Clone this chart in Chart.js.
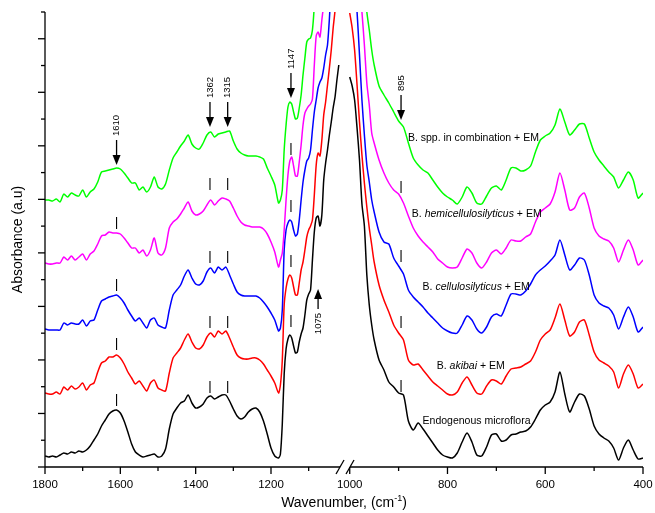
<!DOCTYPE html>
<html><head><meta charset="utf-8">
<script src="https://cdn.jsdelivr.net/npm/chart.js@4.4.0/dist/chart.umd.min.js"></script>
<style>html,body{margin:0;padding:0;background:#fff;}#wrap{width:655px;height:513px;position:relative;}</style>
</head><body><div id="wrap"><canvas id="c"></canvas></div>
<script>
// ---- wavenumber grids (cm-1) ----
const wnLeft = [1800,1790,1780,1770,1760,1750,1740,1730,1720,1710,
1700,1690,1680,1670,1660,1650,1640,1630,1620,1610,
1600,1590,1580,1570,1560,1550,1540,1530,1520,1510,
1500,1490,1480,1470,1460,1450,1440,1430,1420,1410,
1400,1390,1380,1370,1360,1350,1340,1330,1320,1310,
1300,1290,1280,1270,1260,1250,1240,1230,1220,1210,
1200,1190,1180,
1175,1170,1165,1160,1155,1150,1145,1140,1135,1130,
1125,1120,1115,1110,1105,1100,1095,1090,1085,1080,
1075,1070,1065,1060,1055,1050,1045,1040,1035,1030,
1025,1020,1015];
const wnRight = [1000,995,990,985,980,975,970,965,960,955,950,
940,930,920,910,900,890,880,870,860,850,
840,830,820,810,800,790,780,770,760,750,
740,730,720,710,700,690,680,670,660,650,
640,630,620,610,600,590,580,570,560,550,
540,530,520,510,500,490,480,470,460,450,
440,430,420,410,400];

// ---- absorbance (a.u., stacked) ----
const greenLeft = [264,264,263,265,262,270,267,271,269,268,
274,267,272,275,282,292,293,294,295,296,
295,291,286,281,281,274,277,272,277,287,
277,275,280,294,306,312,318,323,329,320,
316,315,321,329,332,327,330,331,332,333,
323,315,311,309,308,308,308,307,305,296,
288,279,261,
264,274,314,339,357,362,360,352,345,346,
356,369,389,406,422,425,426,434,459,500,
500,500,500,500,500,500,500,500,500,500,
500,500,500];
const greenRight = [500,500,500,500,500,500,480,452,434,414,399,
378,369,361,352,343,337,321,306,299,294,
291,284,277,271,267,264,260,267,277,271,
261,260,268,276,278,274,284,296,296,293,
294,298,312,324,328,331,339,355,342,329,
334,340,340,326,312,304,298,292,287,276,
284,292,284,266,271];

const magentaLeft = [201,200,200,201,201,207,204,208,204,207,
210,204,210,213,220,228,229,232,231,231,
230,226,221,216,216,211,214,208,214,226,
211,209,216,236,242,245,250,256,262,253,
249,250,253,259,264,259,263,266,265,263,
256,248,242,239,238,237,237,237,235,230,
222,212,197,
204,211,234,264,289,303,307,298,288,288,
302,319,339,351,355,358,360,365,399,428,
432,427,444,461,500,500,500,500,500,500,
500,500,500];
const magentaRight = [500,500,500,500,480,452,419,381,359,331,321,
304,291,281,274,270,261,248,236,228,222,
217,212,205,201,197,196,197,206,215,211,
201,196,202,211,214,210,216,224,223,223,
227,230,242,252,256,260,272,291,274,254,
256,267,271,256,236,228,225,223,216,202,
214,224,214,199,204];

const blueLeft = [135,134,134,134,134,141,139,141,140,140,
144,138,143,144,154,163,165,167,168,169,
166,161,154,148,143,146,141,136,144,146,
139,137,136,154,169,174,179,188,194,186,
180,179,183,192,196,191,197,194,197,189,
180,172,169,168,168,168,168,166,162,157,
151,144,133,
136,154,214,234,241,244,242,234,228,230,
244,264,282,294,303,306,314,334,352,364,
376,382,386,396,409,419,445,480,500,500,
500,500,500];
const blueRight = [500,500,480,452,409,364,329,299,282,264,252,
232,222,220,206,198,190,174,167,162,157,
151,146,141,136,133,131,131,139,148,144,
135,131,137,147,150,148,159,170,170,169,
173,180,189,194,198,203,209,224,209,194,
199,206,204,189,169,161,158,156,149,135,
147,157,147,132,137];

const redLeft = [71,70,70,72,70,77,74,78,75,77,
81,74,79,81,92,101,103,107,107,109,
106,100,92,86,80,83,78,73,81,84,
76,74,73,91,106,111,116,124,130,122,
116,115,119,127,131,127,133,130,133,126,
117,109,106,105,105,106,106,104,100,94,
88,81,71,
79,104,159,176,185,189,186,177,169,169,
181,194,202,214,227,234,238,244,269,299,
311,308,324,349,362,379,396,414,436,454,
500,500,500];
const redRight = [451,436,414,379,342,309,281,257,236,219,202,
179,164,152,139,131,124,104,99,100,94,
88,82,78,74,70,69,72,81,87,79,
71,70,78,84,83,80,88,95,96,97,
100,103,112,124,130,134,146,160,144,128,
132,142,144,129,112,104,101,98,92,76,
90,99,90,76,80];

const blackLeft = [8,7,8,7,9,11,10,12,11,13,
12,14,18,24,30,38,44,50,53,54,
51,43,32,20,12,9,7,8,9,10,
7,8,15,35,50,56,61,63,69,61,
56,57,60,66,68,65,67,69,69,63,
55,48,45,47,52,55,56,52,43,30,
16,8,6,
10,40,90,115,125,129,126,118,111,112,
122,130,136,149,164,170,174,204,232,246,
248,238,249,284,301,314,329,342,356,367,
384,399,null];
const blackRight = [387,378,364,336,304,260,238,189,159,139,124,
104,94,82,77,71,69,43,34,41,35,
28,21,14,9,7,6,11,22,31,22,
9,8,17,29,30,23,24,29,30,32,
33,37,45,54,59,62,72,92,70,52,
62,70,68,55,38,30,26,23,16,4,
16,24,14,5,6];

// ---- ticks ----
const majorTicks = [1800,1600,1400,1200,1000,800,600,400];
const minorTicks = [1700,1500,1300,1100,900,700,500];
const yDivisions = 17;

// ---- annotations ----
const arrowWn = [1610,1362,1315,1147,895];
const arrowLabels = ['1610','1362','1315','1147','895'];
const arrowTip = [299,337,337,366,344];
const upArrowWn = [1075];
const upArrowLabels = ['1075'];
const upArrowTip = [175];
const markWn = [1610,1362,1315,1147,895];
const markMagenta = [235,274,274,309,271];
const markBlue = [173,201,201,252,202];
const markRed = [114,136,136,197,136];
const markBlack = [58,71,71,137,72];

const labelRuns = [
  [['B. spp. in combination + EM', false]],
  [['B. ', false], ['hemicellulosilyticus', true], [' + EM', false]],
  [['B. ', false], ['cellulosilyticus', true], [' + EM', false]],
  [['B. ', false], ['akibai', true], [' + EM', false]],
  [['Endogenous microflora', false]]
];
const labelWn = [881, 873, 851, 822, 851];
const labelVal = [326, 250, 177, 98, 43];

const seriesNames = ['B. spp. in combination + EM','B. hemicellulosilyticus + EM','B. cellulosilyticus + EM','B. akibai + EM','Endogenous microflora'];
const seriesColors = ['#00ff00','#ff00ff','#0000ff','#ff0000','#000000'];

// ---- broken axis transform: 1800-1000 | 1000-400 ----
const GAP = 9, RATIO = 1.2977;
function toU(w){ return w > 1000 ? 1800 - w : 800 + GAP + (1000 - w) * RATIO; }
const U_MAX = toU(400);

function build(left, right){
  const pts = wnLeft.map((w,i)=>({x: toU(w), y: left[i]}));
  pts.push({x: 800 + GAP/2, y: null});
  wnRight.forEach((w,i)=>pts.push({x: toU(w), y: right[i]}));
  return pts;
}
const seriesData = [
  build(greenLeft, greenRight),
  build(magentaLeft, magentaRight),
  build(blueLeft, blueRight),
  build(redLeft, redRight),
  build(blackLeft, blackRight)
];

const FONT = "'Liberation Sans', Arial, Helvetica, sans-serif";

const deco = {
  id: 'deco',
  afterDraw(chart){
    const ctx = chart.ctx, a = chart.chartArea;
    const xs = chart.scales.x, ys = chart.scales.y;
    const X = w => xs.getPixelForValue(toU(w));
    const Y = v => ys.getPixelForValue(v);
    const seg = (x1,y1,x2,y2) => { ctx.beginPath(); ctx.moveTo(x1,y1); ctx.lineTo(x2,y2); ctx.stroke(); };
    ctx.save();
    ctx.strokeStyle = '#000'; ctx.fillStyle = '#000'; ctx.lineWidth = 1.3;

    // y axis
    seg(a.left, a.top, a.left, a.bottom);
    for (let i = 0; i <= yDivisions; i++){
      const py = Y(ys.min + (ys.max - ys.min) * i / yDivisions);
      seg(a.left - (i % 2 === 0 ? 7 : 4), py, a.left, py);
    }
    // x axis with break
    const bc = (xs.getPixelForValue(800) + xs.getPixelForValue(800 + GAP)) / 2 - 3;
    seg(a.left, a.bottom, bc - 5, a.bottom);
    seg(bc + 5, a.bottom, a.right, a.bottom);
    [-5, 5].forEach(o => seg(bc + o - 4, a.bottom + 7, bc + o + 4, a.bottom - 7));

    ctx.font = '11.5px ' + FONT; ctx.textAlign = 'center'; ctx.textBaseline = 'middle';
    majorTicks.forEach(w => { const px = X(w); seg(px, a.bottom, px, a.bottom + 7); ctx.fillText(String(w), px, a.bottom + 18); });
    minorTicks.forEach(w => { const px = X(w); seg(px, a.bottom, px, a.bottom + 4); });

    // x title with superscript
    const cx = (a.left + a.right) / 2, by = a.bottom + 40;
    const t1 = 'Wavenumber, (cm', t2 = '-1', t3 = ')';
    ctx.textBaseline = 'alphabetic'; ctx.textAlign = 'left';
    ctx.font = '14px ' + FONT; const w1 = ctx.measureText(t1).width, w3 = ctx.measureText(t3).width;
    ctx.font = '9px ' + FONT; const w2 = ctx.measureText(t2).width;
    let sx = cx - (w1 + w2 + w3) / 2;
    ctx.font = '14px ' + FONT; ctx.fillText(t1, sx, by); sx += w1;
    ctx.font = '9px ' + FONT; ctx.fillText(t2, sx, by - 6); sx += w2;
    ctx.font = '14px ' + FONT; ctx.fillText(t3, sx, by);

    // y title
    ctx.save(); ctx.translate(18, (a.top + a.bottom) / 2); ctx.rotate(-Math.PI/2);
    ctx.textAlign = 'center'; ctx.textBaseline = 'middle'; ctx.font = '14px ' + FONT;
    ctx.fillText('Absorbance (a.u)', 0, 0); ctx.restore();

    // down arrows
    arrowWn.forEach((w, i) => {
      const px = X(w), ty = Y(arrowTip[i]);
      ctx.beginPath(); ctx.moveTo(px, ty); ctx.lineTo(px - 4, ty - 10); ctx.lineTo(px + 4, ty - 10); ctx.closePath(); ctx.fill();
      seg(px, ty - 9, px, ty - 25);
      ctx.save(); ctx.translate(px, ty - 29); ctx.rotate(-Math.PI/2);
      ctx.textAlign = 'left'; ctx.textBaseline = 'middle'; ctx.font = '9.5px ' + FONT;
      ctx.fillText(arrowLabels[i], 0, 0); ctx.restore();
    });
    // up arrows
    upArrowWn.forEach((w, i) => {
      const px = X(w), ty = Y(upArrowTip[i]);
      ctx.beginPath(); ctx.moveTo(px, ty); ctx.lineTo(px - 4, ty + 10); ctx.lineTo(px + 4, ty + 10); ctx.closePath(); ctx.fill();
      seg(px, ty + 9, px, ty + 20);
      ctx.save(); ctx.translate(px, ty + 24); ctx.rotate(-Math.PI/2);
      ctx.textAlign = 'right'; ctx.textBaseline = 'middle'; ctx.font = '9.5px ' + FONT;
      ctx.fillText(upArrowLabels[i], 0, 0); ctx.restore();
    });
    // band markers
    ctx.lineWidth = 1.1;
    [markMagenta, markBlue, markRed, markBlack].forEach(arr => arr.forEach((v, i) => {
      const px = X(markWn[i]), py = Y(v); seg(px, py, px, py - 12);
    }));
    // series labels
    ctx.textAlign = 'left'; ctx.textBaseline = 'middle';
    labelRuns.forEach((runs, i) => {
      let lx = X(labelWn[i]); const ly = Y(labelVal[i]);
      runs.forEach(([t, it]) => { ctx.font = (it ? 'italic ' : '') + '10.5px ' + FONT; ctx.fillText(t, lx, ly); lx += ctx.measureText(t).width; });
    });
    ctx.restore();
  }
};

new Chart(document.getElementById('c'), {
  type: 'line',
  data: {
    datasets: seriesData.map((d, i) => ({
      label: seriesNames[i], data: d, borderColor: seriesColors[i], backgroundColor: seriesColors[i],
      borderWidth: 1.5, pointRadius: 0, tension: 0.25, fill: false, spanGaps: false
    }))
  },
  options: {
    responsive: true, maintainAspectRatio: false, animation: false, events: [],
    layout: { padding: { left: 45, right: 12, top: 12, bottom: 46 } },
    plugins: { legend: { display: false }, tooltip: { enabled: false } },
    scales: {
      x: { type: 'linear', display: false, min: 0, max: U_MAX },
      y: { type: 'linear', display: false, min: -3, max: 452 }
    }
  },
  plugins: [deco]
});
</script></body></html>
